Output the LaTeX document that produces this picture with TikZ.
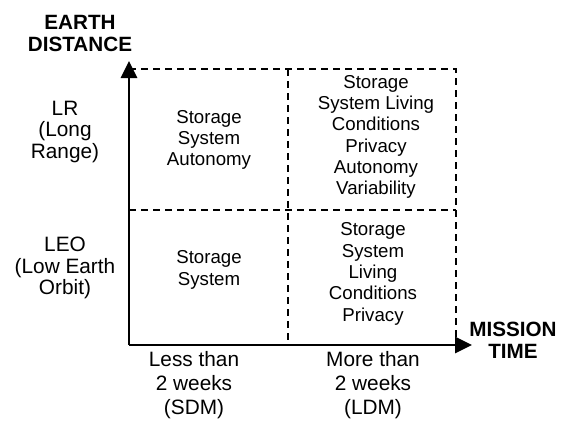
\documentclass[tikz,border=0pt]{standalone}
\usepackage{fontspec}
\setmainfont{Liberation Sans}
\usetikzlibrary{arrows.meta}
\begin{document}
\begin{tikzpicture}[x=0.75pt,y=-0.75pt,
  axis/.style={line width=2.2pt,-{Triangle[length=12.75pt,width=12pt]}},
  grid/.style={line width=1.5pt,dash pattern=on 5.5pt off 3.5pt},
  cell/.style={align=center,font=\fontsize{14}{16}\selectfont},
  side/.style={align=center,font=\fontsize{15.6}{16.2}\selectfont},
  bottom/.style={align=center,font=\fontsize{15.6}{18}\selectfont},
  title/.style={align=center,font=\fontsize{15.5}{16.5}\selectfont\bfseries}]
\useasboundingbox (0,0) rectangle (568,421);
\coordinate (O) at (129,345);
\coordinate (ytip) at (129,61);
\coordinate (xtip) at (472,345);
\coordinate (tl) at (129,69);
\coordinate (tm) at (288,69);
\coordinate (tr) at (456,69);
\coordinate (ml) at (129,210);
\coordinate (mr) at (456,210);
\coordinate (bm) at (288,345);
\coordinate (br) at (456,345);
\draw[grid] (tl) -- (tr) -- (br);
\draw[grid] (ml) -- (mr);
\draw[grid] (tm) -- (bm);
\draw[axis] (O) -- (ytip);
\draw[axis] (O) -- (xtip);
\node[title] (dist) at (80,33) {EARTH\\DISTANCE};
\node[title] (time) at (513,340) {MISSION\\TIME};
\node[side] (lr) at (65,132) {LR\\(Long\\Range)};
\node[side] (leo) at (65,268) {LEO\\(Low Earth\\Orbit)};
\node[bottom] (sdm) at (194,385) {Less than\\2 weeks\\(SDM)};
\node[bottom] (ldm) at (373,385) {More than\\2 weeks\\(LDM)};
\node[cell] (lrsdm) at (209,140) {Storage\\System\\Autonomy};
\node[cell] (lrldm) at (376,137) {Storage\\System Living\\Conditions\\Privacy\\Autonomy\\Variability};
\node[cell] (leosdm) at (209,270) {Storage\\System};
\node[cell] (leoldm) at (373,274) {Storage\\System\\Living\\Conditions\\Privacy};
\end{tikzpicture}
\end{document}
